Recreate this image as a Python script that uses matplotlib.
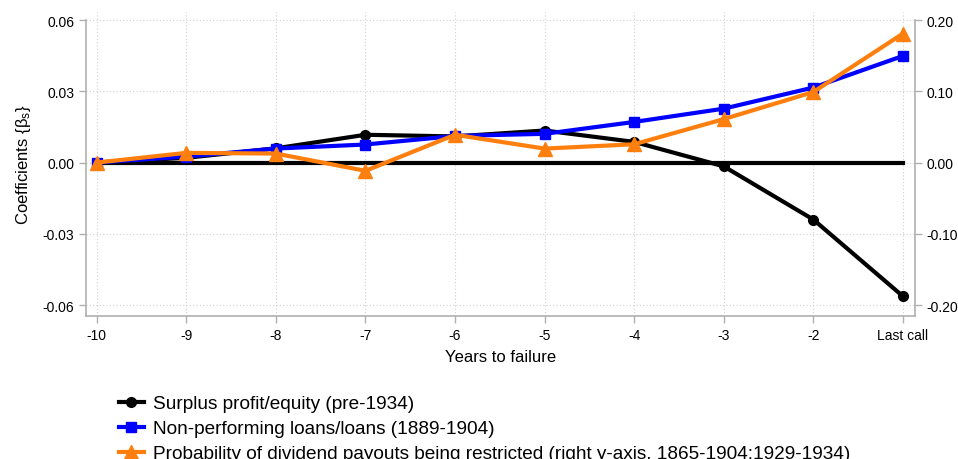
import numpy as np
import matplotlib
matplotlib.use("Agg")
import matplotlib.pyplot as plt

plt.rcParams['font.family'] = ['Liberation Sans', 'DejaVu Sans']
plt.rcParams['mathtext.fontset'] = 'custom'
plt.rcParams['mathtext.rm'] = 'Liberation Sans'
plt.rcParams['mathtext.it'] = 'Liberation Sans:italic'

# Data (years to failure; -1 = last call)
years = [-10, -9, -8, -7, -6, -5, -4, -3, -2, -1]
xtick_labels = ['-10', '-9', '-8', '-7', '-6', '-5', '-4', '-3', '-2', 'Last call']

surplus = [0.0, 0.002, 0.006, 0.0117, 0.011, 0.0135, 0.0087, -0.0016, -0.0240, -0.0563]
npl = [0.0, 0.0025, 0.0059, 0.0076, 0.0112, 0.0121, 0.0171, 0.0227, 0.0316, 0.0449]
dividend = [0.0, 0.0136, 0.0126, -0.0116, 0.039, 0.0196, 0.0257, 0.061, 0.099, 0.181]

labels = ['Surplus profit/equity (pre-1934)',
          'Non-performing loans/loans (1889-1904)',
          'Probability of dividend payouts being restricted (right y-axis, 1865-1904;1929-1934)']

fig = plt.figure(figsize=(9.58, 4.6), dpi=100)
ax = fig.add_axes([0.0898, 0.311, 0.8652, 0.6607])
ax2 = ax.twinx()

ylo, yhi = -0.0646, 0.0634
ax.set_ylim(ylo, yhi)
ax2.set_ylim(ylo * 10 / 3, yhi * 10 / 3)
ax.set_xlim(-10.12, -0.866)

# zero reference line
ax.plot([years[0], years[-1]], [0, 0], color='black', linewidth=3, zorder=2)

h1, = ax.plot(years, surplus, color='black', linewidth=3, marker='o', markersize=7, zorder=3)
h2, = ax.plot(years, npl, color='#0000ff', linewidth=3, marker='s', markersize=7.5, zorder=4)
h3, = ax2.plot(years, dividend, color='#ff7f0e', linewidth=3, marker='^', markersize=9.5, zorder=5)

ax.set_yticks([-0.06, -0.03, 0.0, 0.03, 0.06])
ax.set_yticklabels(['-0.06', '-0.03', '0.00', '0.03', '0.06'])
ax2.set_yticks([-0.2, -0.1, 0.0, 0.1, 0.2])
ax2.set_yticklabels(['-0.20', '-0.10', '0.00', '0.10', '0.20'])
ax.set_xticks(years)
ax.set_xticklabels(xtick_labels)

ax.grid(True, color='#d0d0d0', linestyle=(0, (1, 2)), linewidth=0.8)
ax.set_axisbelow(True)

for a in (ax, ax2):
    a.spines['top'].set_visible(False)
    for s in ('left', 'right', 'bottom'):
        a.spines[s].set_color('#b0b0b0')
        a.spines[s].set_linewidth(1.2)
    a.tick_params(colors='#b0b0b0', labelcolor='black', labelsize=10, length=5, width=1)
ax.spines['right'].set_visible(False)
ax2.spines['left'].set_visible(False)
ax2.spines['bottom'].set_visible(False)
ax.spines['left'].set_bounds(ylo, 0.06)
ax2.spines['right'].set_bounds(ylo * 10 / 3, 0.2)

ax.set_xlabel('Years to failure', fontsize=12, labelpad=5)
ax.set_ylabel(r'Coefficients {$\mathregular{\beta_s}$}', fontsize=12, labelpad=7)

fig.legend([h1, h2, h3], labels, loc='upper left', bbox_to_anchor=(0.1242, 0.139),
           frameon=False, fontsize=13.7, handlelength=1.3, handletextpad=0.5,
           labelspacing=0.4, borderpad=0, borderaxespad=0)

fig.savefig('out.png', dpi=100)
